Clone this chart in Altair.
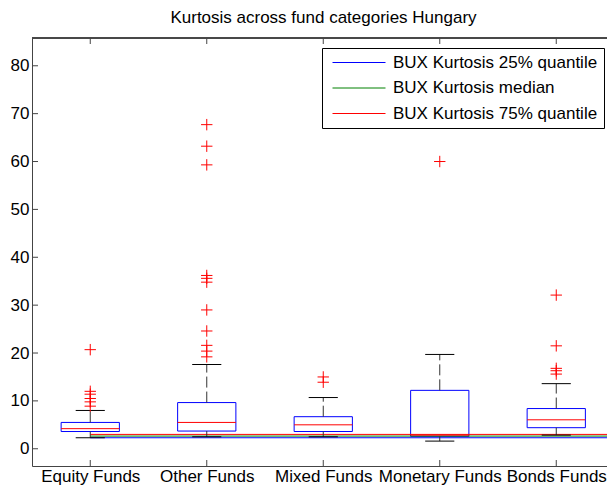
import altair as alt
import pandas as pd

title_text = "Kurtosis across fund categories Hungary"
categories = ["Equity Funds", "Other Funds", "Mixed Funds", "Monetary Funds", "Bonds Funds"]
q1 = [3.6, 3.7, 3.6, 2.6, 4.4]
medians = [4.2, 5.5, 5.0, 2.85, 6.05]
q3 = [5.5, 9.65, 6.7, 12.2, 8.4]
whisker_low = [2.3, 2.5, 2.5, 1.6, 2.85]
whisker_high = [8.0, 17.6, 10.7, 19.7, 13.6]

outliers_equity = [20.7, 12.0, 11.4, 10.5, 9.8, 8.9]
outliers_other = [67.7, 63.2, 59.3, 36.2, 35.6, 34.8, 29.0, 24.6, 21.6, 20.4, 19.2]
outliers_mixed = [15.0, 13.9]
outliers_monetary = [60.0]
outliers_bonds = [32.1, 21.5, 16.8, 16.3, 15.6]

bux_labels = ["BUX Kurtosis 25% quantile", "BUX Kurtosis median", "BUX Kurtosis 75% quantile"]
bux_values = [2.3, 2.65, 3.0]
bux_colors = ["#0000ff", "#008000", "#ff0000"]

y_ticks = [0, 10, 20, 30, 40, 50, 60, 70, 80]

W, H = 575, 428
XMAX = 5.4356
FONT = "Liberation Sans"
FRAME = "#444444"

positions = list(range(1, len(categories) + 1))
boxes = pd.DataFrame({"pos": positions, "cat": categories, "q1": q1, "med": medians,
                      "q3": q3, "lo": whisker_low, "hi": whisker_high})
out_lists = [outliers_equity, outliers_other, outliers_mixed, outliers_monetary, outliers_bonds]
outliers = pd.DataFrame([{"pos": p, "v": v} for p, lst in zip(positions, out_lists) for v in lst])
bux = pd.DataFrame({"series": bux_labels, "v": bux_values, "x1": [1] * 3, "x2": [XMAX] * 3})
yt = pd.DataFrame({"v": y_ticks})
xt = pd.DataFrame({"pos": positions})
tdf = pd.DataFrame({"t": [title_text]})

xs = alt.Scale(domain=[0.5, XMAX], nice=False, zero=False)
ys = alt.Scale(domain=[-3.6, 85.8], nice=False, zero=False)

label_expr = "[" + ",".join("'%s'" % c for c in categories) + "][datum.value - 1]"

x_axis = alt.Axis(values=positions, labelExpr=label_expr, ticks=False, domain=True,
                  domainColor=FRAME, domainWidth=1,
                  grid=False, labelFontSize=17, labelFont=FONT, labelColor="black",
                  labelPadding=2, labelOverlap=False, labelFlush=False, labelBound=False, title=None)
y_axis = alt.Axis(values=y_ticks, ticks=False, domain=True, domainColor=FRAME, domainWidth=1,
                  grid=False, labelFontSize=17, labelFont=FONT, labelColor="black",
                  labelPadding=3, title=None)


def X(f):
    return alt.X(f, scale=xs, axis=x_axis)


def Y(f):
    return alt.Y(f, scale=ys, axis=y_axis)


box = alt.Chart(boxes).transform_calculate(
    xl="datum.pos - 0.25", xr="datum.pos + 0.25"
).mark_rect(fillOpacity=0, stroke="#0000ff", strokeWidth=1).encode(
    x=X("xl:Q"), x2="xr:Q", y=Y("q1:Q"), y2="q3:Q")

median = alt.Chart(boxes).transform_calculate(
    xl="datum.pos - 0.25", xr="datum.pos + 0.25"
).mark_rule(color="#ff0000", strokeWidth=1).encode(
    x=X("xl:Q"), x2="xr:Q", y=Y("med:Q"))

wh_up = alt.Chart(boxes).mark_rule(color="#333333", strokeWidth=1, strokeDash=[11, 4]).encode(
    x=X("pos:Q"), y=Y("q3:Q"), y2="hi:Q")
wh_dn = alt.Chart(boxes).mark_rule(color="#333333", strokeWidth=1, strokeDash=[11, 4]).encode(
    x=X("pos:Q"), y=Y("lo:Q"), y2="q1:Q")

cap_hi = alt.Chart(boxes).transform_calculate(
    xl="datum.pos - 0.125", xr="datum.pos + 0.125"
).mark_rule(color="black", strokeWidth=1).encode(
    x=X("xl:Q"), x2="xr:Q", y=Y("hi:Q"))
cap_lo = alt.Chart(boxes).transform_calculate(
    xl="datum.pos - 0.125", xr="datum.pos + 0.125"
).mark_rule(color="black", strokeWidth=1).encode(
    x=X("xl:Q"), x2="xr:Q", y=Y("lo:Q"))

bux_lines = alt.Chart(bux).mark_rule(strokeWidth=1).encode(
    x=X("x1:Q"), x2="x2:Q", y=Y("v:Q"),
    color=alt.Color("series:N", scale=alt.Scale(domain=bux_labels, range=bux_colors),
                    legend=alt.Legend(title=None, orient="none", legendX=290, legendY=10,
                                      symbolType="stroke", symbolSize=2809, symbolStrokeWidth=1,
                                      clipHeight=17, rowPadding=7.5, labelFontSize=17,
                                      labelFont=FONT, labelColor="black", labelOffset=7,
                                      symbolOffset=4, padding=6, strokeColor="black",
                                      fillColor="white", labelLimit=400)))

pts = alt.Chart(outliers).mark_point(shape="M-1,0H1M0,-1V1", filled=False, color="#ff0000",
                                     size=130, strokeWidth=1, opacity=1).encode(
    x=X("pos:Q"), y=Y("v:Q"))

tl = alt.Chart(yt).mark_rule(color=FRAME).encode(
    x=alt.value(0), x2=alt.value(6), y=Y("v:Q"))
tb = alt.Chart(xt).mark_rule(color=FRAME).encode(
    y=alt.value(H - 6), y2=alt.value(H), x=X("pos:Q"))
tt = alt.Chart(xt).mark_rule(color=FRAME).encode(
    y=alt.value(0), y2=alt.value(6), x=X("pos:Q"))
top_line = alt.Chart(xt).mark_rule(color=FRAME, strokeWidth=1).encode(
    x=alt.value(0), x2=alt.value(W), y=alt.value(0))

title = alt.Chart(tdf).mark_text(fontSize=17, font=FONT, color="black", align="center",
                                 baseline="alphabetic").encode(
    text="t:N", x=alt.value(W / 2 + 4), y=alt.value(-15.5))

chart = alt.layer(
    box, bux_lines, median, wh_up, wh_dn, cap_hi, cap_lo, pts, tl, tb, tt, top_line, title
).properties(
    width=W, height=H,
    autosize=alt.AutoSizeParams(type="none"),
    padding={"left": 24, "top": 30, "right": 0, "bottom": 20},
).configure_view(stroke=None).configure(background="white")

chart.save("out.html", embed_options={"renderer": "svg", "actions": False})
